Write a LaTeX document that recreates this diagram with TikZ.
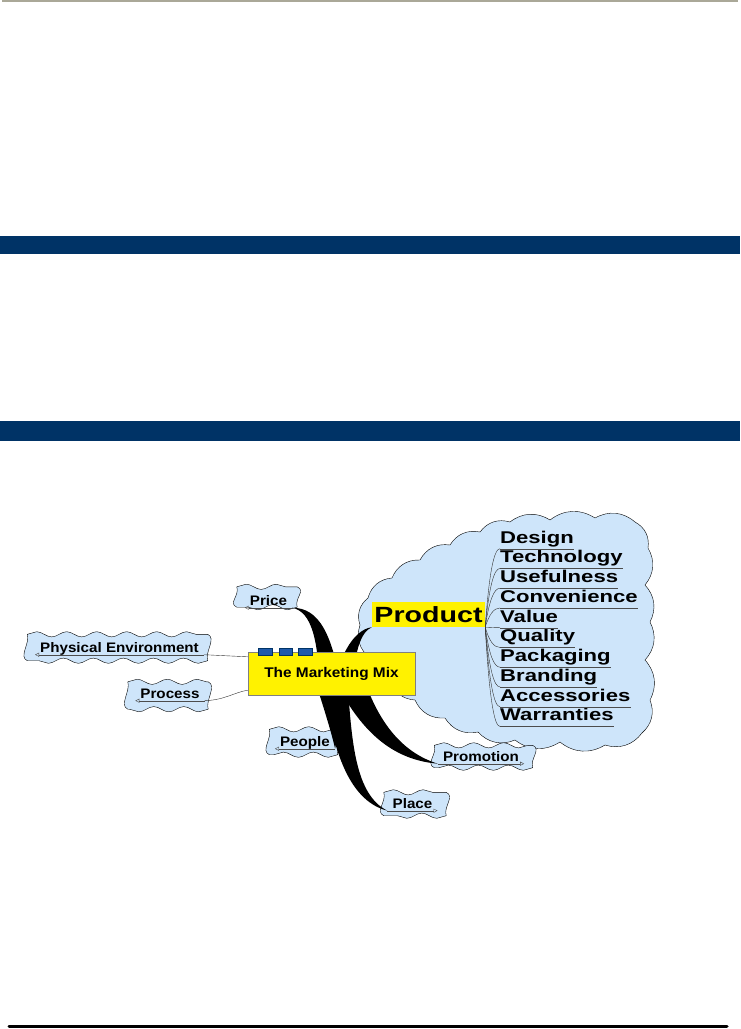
\documentclass[tikz,border=0pt]{standalone}
\usepackage{fontspec}
\usepackage{tikz}
\usetikzlibrary{decorations.pathmorphing,arrows.meta,calc}
\newfontfamily\leaffont{Liberation Sans}[FakeStretch=1.1]
\newfontfamily\listfont{Liberation Sans}[FakeStretch=1.3]
\definecolor{navy}{RGB}{0,51,102}
\definecolor{skyfill}{RGB}{206,229,250}
\definecolor{rulegray}{RGB}{170,168,152}
\definecolor{iconblue}{RGB}{30,90,170}
\newcommand\leafpath[1]{%
  \filldraw[leaf] (#1.north west) decorate{-- (#1.north east)}
    .. controls ($(#1.north east)+(9,4)$) and ($(#1.south east)+(-3,-9)$) .. (#1.south east)
    decorate{-- (#1.south west)}
    .. controls ($(#1.south west)+(-9,-4)$) and ($(#1.north west)+(3,9)$) .. (#1.north west) -- cycle;}

\begin{document}
\begin{tikzpicture}[x=1pt, y=-1pt,
  leafbox/.style={inner sep=0pt},
  leaf/.style={fill=skyfill, draw=black, thin, decoration={snake, amplitude=2.6pt, segment length=30pt}},
  leaftext/.style={anchor=base, inner xsep=5pt, inner ysep=0pt, text depth=2.5pt, font=\leaffont\bfseries\fontsize{13.8}{16}\selectfont},
  itemtext/.style={anchor=base west, inner xsep=0pt, inner ysep=0pt, text depth=5.5pt, font=\listfont\bfseries\fontsize{17}{19}\selectfont},
  uline/.style={draw=black!70, thin},
  endmark/.style={-{Triangle[open, length=4pt, width=4pt]}},
  branch/.style={fill=black},
  twig/.style={draw=black!80, thin}]
\useasboundingbox (0,0) rectangle (740,1029);
\fill[rulegray] (2,0) rectangle (738,2);
\fill[navy] (0,236) rectangle (740,254);
\fill[navy] (0,421) rectangle (740,441);
\draw[line width=3pt, line cap=round] (9,1026) -- (727,1026);

\filldraw[fill=skyfill, draw=black, thin] (360,625) to[bend left=35] (368,598) to[bend left=35] (392,578)
  to[bend left=35] (420,560) to[bend left=35] (450,545) to[bend left=35] (480,532)
  to[bend left=35] (510,522) to[bend left=35] (550,520) to[bend left=35] (595,518)
  to[bend left=35] (635,522) to[bend left=35] (648,548) to[bend left=35] (645,585)
  to[bend left=35] (650,622) to[bend left=35] (645,660) to[bend left=35] (650,700)
  to[bend left=35] (642,733) to[bend left=35] (605,745) to[bend left=35] (560,742)
  to[bend left=35] (515,740) to[bend left=35] (478,732) to[bend left=35] (445,718)
  to[bend left=35] (415,700) to[bend left=35] (390,680) to[bend left=35] (370,658)
  to[bend left=35] cycle;

\node[leafbox, minimum width=60pt, minimum height=20pt] (priceleaf) at (267,597) {};
\node[leafbox, minimum width=180pt, minimum height=26pt] (physleaf) at (117.5,647.5) {};
\node[leafbox, minimum width=80pt, minimum height=27pt] (processleaf) at (168,695.5) {};
\node[leafbox, minimum width=68pt, minimum height=25pt] (peopleleaf) at (303.5,742) {};
\node[leafbox, minimum width=98pt, minimum height=22pt] (promoleaf) at (483.5,756.5) {};
\node[leafbox, minimum width=62pt, minimum height=23pt] (placeleaf) at (415,804) {};
\leafpath{priceleaf}
\leafpath{physleaf}
\leafpath{processleaf}
\leafpath{peopleleaf}
\leafpath{promoleaf}
\leafpath{placeleaf}

\node[leaftext] (price) at (268.5,605) {Price};
\node[leaftext] (phys) at (119.5,652) {Physical Environment};
\node[leaftext] (process) at (170,698) {Process};
\node[leaftext] (people) at (305,746) {People};
\node[leaftext] (promo) at (481,761) {Promotion};
\node[leaftext] (place) at (412.5,808) {Place};

\draw[uline, endmark] (price.south east) -- (price.south west);
\draw[uline, endmark] (phys.south east) -- (phys.south west);
\draw[uline, endmark] (process.south east) -- (process.south west);
\draw[uline, endmark] (people.south east) -- (people.south west);
\draw[uline, endmark] (promo.south west) -- (promo.south east);
\draw[uline, endmark] (place.south west) -- (place.south east);

\node[fill=yellow, minimum width=113pt, minimum height=25pt, inner sep=0pt, font=\listfont\bfseries\fontsize{22}{24}\selectfont] (product) at (428.5,614.5) {Product};

\node[itemtext] (design) at (500,543) {Design};
\node[itemtext] (technology) at (500,562.75) {Technology};
\node[itemtext] (usefulness) at (500,582.5) {Usefulness};
\node[itemtext] (convenience) at (500,602.25) {Convenience};
\node[itemtext] (value) at (500,622) {Value};
\node[itemtext] (quality) at (500,641.75) {Quality};
\node[itemtext] (packaging) at (500,661.5) {Packaging};
\node[itemtext] (branding) at (500,681.25) {Branding};
\node[itemtext] (accessories) at (500,701) {Accessories};
\node[itemtext] (warranties) at (500,720.75) {Warranties};

\draw[uline] (design.south west) -- (design.south east);
\draw[uline] (technology.south west) -- (technology.south east);
\draw[uline] (usefulness.south west) -- (usefulness.south east);
\draw[uline] (convenience.south west) -- (convenience.south east);
\draw[uline] (value.south west) -- (value.south east);
\draw[uline] (quality.south west) -- (quality.south east);
\draw[uline] (packaging.south west) -- (packaging.south east);
\draw[uline] (branding.south west) -- (branding.south east);
\draw[uline] (accessories.south west) -- (accessories.south east);
\draw[uline] (warranties.south west) -- (warranties.south east);

\draw[twig] (product.south east) .. controls +(4,-55) and +(-6,0) .. (design.south west);
\draw[twig] (product.south east) .. controls +(4,-41) and +(-6,0) .. (technology.south west);
\draw[twig] (product.south east) .. controls +(4,-27) and +(-6,0) .. (usefulness.south west);
\draw[twig] (product.south east) .. controls +(4,-13) and +(-6,0) .. (convenience.south west);
\draw[twig] (product.south east) .. controls +(4,0) and +(-6,0) .. (value.south west);
\draw[twig] (product.south east) .. controls +(4,14) and +(-6,0) .. (quality.south west);
\draw[twig] (product.south east) .. controls +(4,28) and +(-6,0) .. (packaging.south west);
\draw[twig] (product.south east) .. controls +(4,42) and +(-6,0) .. (branding.south west);
\draw[twig] (product.south east) .. controls +(4,55) and +(-6,0) .. (accessories.south west);
\draw[twig] (product.south east) .. controls +(4,69) and +(-6,0) .. (warranties.south west);

\coordinate (hub) at (334,690);
\fill[branch] ([xshift=-14pt]hub) .. controls (318,640) and (312,612) .. (price.south east)
  .. controls (320,608) and (332,635) .. ([xshift=8pt]hub) -- cycle;
\fill[branch] ([xshift=-1pt]hub) .. controls (338,660) and (352,630) .. (product.south west)
  .. controls (360,632) and (354,655) .. ([xshift=18pt]hub) -- cycle;
\fill[branch] ([xshift=-16pt]hub) .. controls (326,715) and (332,735) .. (people.south east)
  .. controls (340,725) and (338,705) .. ([xshift=4pt]hub) -- cycle;
\fill[branch] ([xshift=-10pt]hub) .. controls (332,740) and (345,800) .. (place.south west)
  .. controls (355,795) and (352,740) .. ([xshift=14pt]hub) -- cycle;
\fill[branch] ([xshift=6pt]hub) .. controls (365,735) and (395,760) .. (promo.south west)
  .. controls (400,752) and (380,720) .. ([xshift=34pt]hub) -- cycle;

\node[fill=yellow, draw=black!50, minimum width=167pt, minimum height=43pt, inner sep=0pt, font=\leaffont\bfseries\fontsize{14}{16}\selectfont] (mix) at (331.5,673.5) {The Marketing Mix};
\filldraw[fill=iconblue, draw=navy] (258,648) rectangle (272,655);
\filldraw[fill=iconblue, draw=navy] (279,648) rectangle (292,655);
\filldraw[fill=iconblue, draw=navy] (298,648) rectangle (312,655);

\draw[twig] (phys.south east) -- ([yshift=-5pt]mix.north west);
\draw[twig] (process.south east) .. controls (225,700) and (235,692) .. ([yshift=5pt]mix.south west);
\end{tikzpicture}
\end{document}
